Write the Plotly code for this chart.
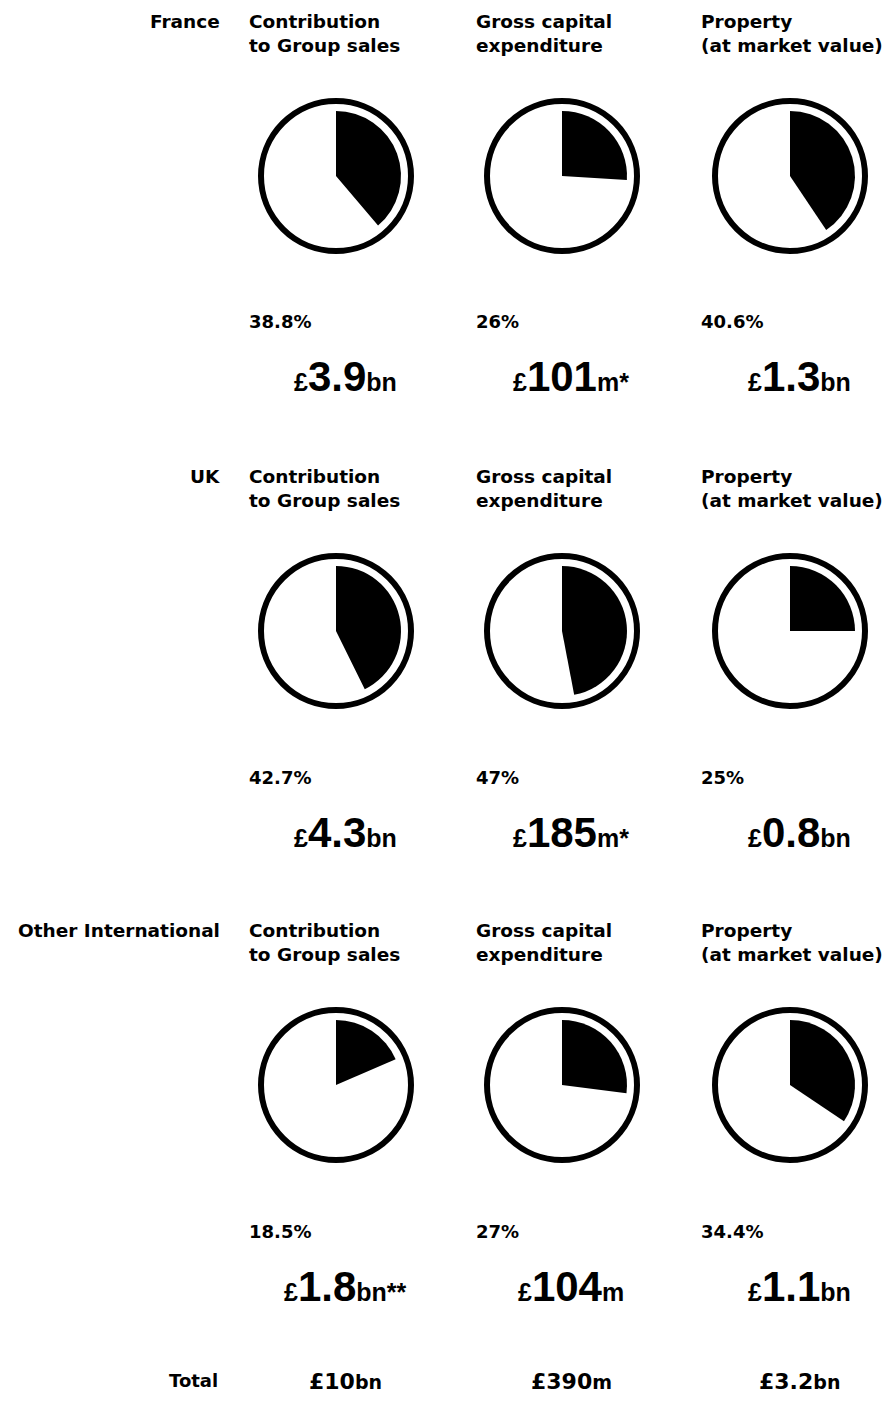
import plotly.graph_objects as go

# ---------------- data ----------------
regions = ["France", "UK", "Other International"]
metrics = ["Contribution<br>to Group sales", "Gross capital<br>expenditure", "Property<br>(at market value)"]
shares_france = [38.8, 26, 40.6]
shares_uk = [42.7, 47, 25]
shares_other = [18.5, 27, 34.4]
amounts_france = ["3.9", "101", "1.3"]
amounts_uk = ["4.3", "185", "0.8"]
amounts_other = ["1.8", "104", "1.1"]
units_france = ["bn", "m*", "bn"]
units_uk = ["bn", "m*", "bn"]
units_other = ["bn**", "m", "bn"]
total_amounts = ["10", "390", "3.2"]
total_units = ["bn", "m", "bn"]

shares = [shares_france, shares_uk, shares_other]
amounts = [amounts_france, amounts_uk, amounts_other]
units = [units_france, units_uk, units_other]

# ---------------- layout constants (px, page coordinates) ----------------
PAGE_W, PAGE_H = 896, 1404
OFF = 8                      # default page body margin
W, H = PAGE_W - 2 * OFF, PAGE_H - 2 * OFF
col_cx = [336, 562, 790]
col_left = [247, 474, 699]
row_cy = [176, 631, 1085]
ring_r = 75
sector_r = 65
ring_w = 6

def fx(px):
    return (px - OFF) / W

def fy(py):
    return 1 - (py - OFF) / H

fig = go.Figure()

for r in range(3):
    for c in range(3):
        cx, cy = col_cx[c], row_cy[r]
        # outer ring
        fig.add_trace(go.Pie(
            values=[100],
            domain=dict(x=[fx(cx - ring_r), fx(cx + ring_r)],
                        y=[fy(cy + ring_r), fy(cy - ring_r)]),
            marker=dict(colors=["white"], line=dict(color="black", width=ring_w)),
            textinfo="none", hoverinfo="skip", showlegend=False, sort=False,
        ))
        # sector
        v = shares[r][c]
        fig.add_trace(go.Pie(
            values=[v, 100 - v],
            domain=dict(x=[fx(cx - sector_r), fx(cx + sector_r)],
                        y=[fy(cy + sector_r), fy(cy - sector_r)]),
            marker=dict(colors=["black", "rgba(0,0,0,0)"], line=dict(width=0)),
            direction="clockwise", rotation=0, sort=False,
            textinfo="none", hoverinfo="skip", showlegend=False,
        ))

small_font = dict(family="DejaVu Sans", size=18.5, color="black", weight="bold")
pct_font = dict(family="DejaVu Sans", size=18, color="black", weight="bold")
big_font = dict(family="Liberation Sans", size=42, color="black", weight="bold")

ann = []
for r in range(3):
    cy = row_cy[r]
    # region label
    ann.append(dict(x=fx(222), y=fy(cy - 167), xanchor="right", yanchor="top",
                    text=regions[r], showarrow=False, font=small_font, align="right"))
    for c in range(3):
        ann.append(dict(x=fx(col_left[c]), y=fy(cy - 167), xanchor="left", yanchor="top",
                        text=metrics[c], showarrow=False, font=small_font, align="left"))
        ann.append(dict(x=fx(col_left[c]), y=fy(cy + 146), xanchor="left", yanchor="middle",
                        text=f"{shares[r][c]:g}%", showarrow=False, font=pct_font))
        txt = (f"<span style='font-size:25px'>£</span>{amounts[r][c]}"
               f"<span style='font-size:25px'>{units[r][c]}</span>")
        ann.append(dict(x=fx(col_cx[c] + 9), y=fy(cy + 201), xanchor="center", yanchor="middle",
                        text=txt, showarrow=False, font=big_font))

# totals
ann.append(dict(x=fx(220), y=fy(1380), xanchor="right", yanchor="middle",
                text="Total", showarrow=False,
                font=dict(family="DejaVu Sans", size=18, color="black", weight="bold")))
for c in range(3):
    txt = f"£{total_amounts[c]}<span style='font-size:19px'>{total_units[c]}</span>"
    ann.append(dict(x=fx(col_cx[c] + 9), y=fy(1381), xanchor="center", yanchor="middle",
                    text=txt, showarrow=False,
                    font=dict(family="DejaVu Sans", size=22, color="black", weight="bold")))

fig.update_layout(
    width=W, height=H,
    margin=dict(l=0, r=0, t=0, b=0),
    paper_bgcolor="white", plot_bgcolor="white",
    annotations=ann,
    showlegend=False,
)

fig.write_html("out.html")
